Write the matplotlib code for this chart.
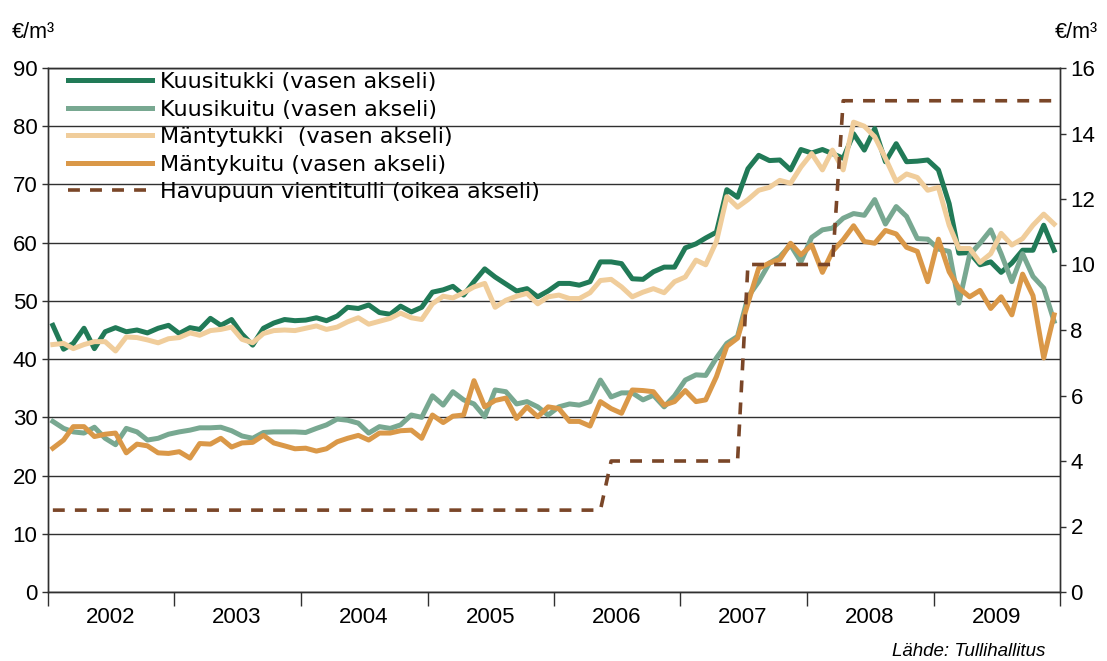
import matplotlib.pyplot as plt
import matplotlib.dates as mdates
from matplotlib.ticker import NullFormatter
import pandas as pd

plt.rcParams['font.family'] = ['Liberation Sans', 'DejaVu Sans']

# monthly observations, Jan 2002 - Dec 2009 (plotted mid-month)
months = pd.date_range('2002-01-01', '2009-12-01', freq='MS') + pd.Timedelta(days=14)

kuusitukki = [
    45.8, 41.7, 42.7, 45.3, 41.8, 44.7, 45.4, 44.7, 45.0, 44.5, 45.3, 45.8,
    44.4, 45.4, 45.1, 47.0, 45.8, 46.8, 44.3, 42.4, 45.3, 46.2, 46.8, 46.6,
    46.7, 47.1, 46.6, 47.4, 48.9, 48.7, 49.3, 48.0, 47.7, 49.1, 48.1, 48.9,
    51.5, 51.9, 52.5, 51.0, 53.3, 55.5, 54.1, 52.9, 51.7, 52.1, 50.7, 51.7,
    53.0, 53.0, 52.7, 53.3, 56.7, 56.7, 56.4, 53.8, 53.7, 55.0, 55.8, 55.8,
    59.1, 59.8, 60.8, 61.8, 69.1, 67.8, 72.7, 75.0, 74.1, 74.2, 72.5, 76.0,
    75.4, 76.0, 75.3, 74.5, 78.7, 75.9, 79.6, 73.9, 77.0, 73.9, 74.0, 74.2,
    72.5, 66.7, 58.2, 58.3, 56.2, 56.7, 54.9, 56.5, 58.7, 58.7, 63.0, 58.7,
]
kuusikuitu = [
    29.3, 28.1, 27.5, 27.3, 28.3, 26.4, 25.3, 28.1, 27.5, 26.1, 26.4, 27.1,
    27.5, 27.8, 28.2, 28.2, 28.3, 27.7, 26.8, 26.4, 27.4, 27.5, 27.5, 27.5,
    27.4, 28.1, 28.7, 29.7, 29.5, 29.0, 27.3, 28.4, 28.1, 28.7, 30.4, 30.0,
    33.7, 32.1, 34.4, 33.0, 32.3, 30.1, 34.7, 34.4, 32.3, 32.7, 31.8, 30.4,
    31.8, 32.3, 32.1, 32.7, 36.4, 33.5, 34.2, 34.2, 33.0, 33.8, 31.8, 33.7,
    36.4, 37.3, 37.2, 40.2, 42.7, 43.9, 50.7, 53.3, 56.5, 57.6, 59.6, 56.7,
    60.9, 62.2, 62.5, 64.2, 65.0, 64.7, 67.4, 63.2, 66.2, 64.5, 60.7, 60.6,
    58.9, 58.5, 49.6, 57.9, 59.9, 62.2, 58.1, 53.3, 58.1, 54.2, 52.2, 46.5,
]
mantytukki = [
    42.5, 42.7, 41.8, 42.5, 43.0, 43.0, 41.4, 43.8, 43.7, 43.3, 42.8, 43.5,
    43.7, 44.5, 44.1, 44.9, 45.1, 45.5, 43.4, 42.8, 44.4, 44.9, 45.0, 44.9,
    45.3, 45.7, 45.1, 45.5, 46.4, 47.1, 46.0, 46.5, 47.0, 47.9, 47.1, 46.8,
    49.5, 50.8, 50.5, 51.4, 52.4, 53.0, 48.9, 50.1, 50.8, 51.3, 49.5, 50.7,
    51.0, 50.4, 50.4, 51.4, 53.5, 53.7, 52.4, 50.7, 51.5, 52.1, 51.4, 53.3,
    54.1, 57.0, 56.2, 60.2, 67.9, 66.1, 67.4, 69.0, 69.5, 70.7, 70.2, 73.0,
    75.3, 72.5, 75.9, 72.5, 80.7, 80.0, 78.2, 74.5, 70.5, 71.8, 71.2, 69.0,
    69.5, 63.0, 59.0, 59.0, 56.6, 58.1, 61.6, 59.6, 60.7, 63.0, 64.9, 63.2,
]
mantykuitu = [
    24.7, 26.1, 28.4, 28.4, 26.7, 27.1, 27.3, 23.9, 25.4, 25.1, 23.9, 23.8,
    24.1, 23.0, 25.5, 25.4, 26.4, 24.9, 25.6, 25.7, 26.9, 25.6, 25.1, 24.6,
    24.7, 24.2, 24.6, 25.8, 26.4, 26.9, 26.1, 27.3, 27.3, 27.7, 27.8, 26.4,
    30.4, 29.1, 30.2, 30.4, 36.3, 31.8, 32.9, 33.3, 29.8, 31.8, 30.1, 31.8,
    31.5, 29.3, 29.3, 28.5, 32.7, 31.5, 30.7, 34.7, 34.6, 34.4, 32.1, 32.7,
    34.6, 32.7, 33.0, 37.0, 42.2, 43.6, 49.6, 55.6, 56.5, 57.1, 59.9, 57.9,
    59.6, 54.9, 58.5, 60.5, 62.9, 60.2, 59.9, 62.1, 61.5, 59.2, 58.5, 53.3,
    60.6, 55.0, 52.2, 50.7, 51.8, 48.7, 50.7, 47.6, 54.6, 50.9, 40.2, 47.6,
]
# export duty, right axis
vientitulli = [
    2.5, 2.5, 2.5, 2.5, 2.5, 2.5, 2.5, 2.5, 2.5, 2.5, 2.5, 2.5,
    2.5, 2.5, 2.5, 2.5, 2.5, 2.5, 2.5, 2.5, 2.5, 2.5, 2.5, 2.5,
    2.5, 2.5, 2.5, 2.5, 2.5, 2.5, 2.5, 2.5, 2.5, 2.5, 2.5, 2.5,
    2.5, 2.5, 2.5, 2.5, 2.5, 2.5, 2.5, 2.5, 2.5, 2.5, 2.5, 2.5,
    2.5, 2.5, 2.5, 2.5, 2.5, 4.0, 4.0, 4.0, 4.0, 4.0, 4.0, 4.0,
    4.0, 4.0, 4.0, 4.0, 4.0, 4.0, 10.0, 10.0, 10.0, 10.0, 10.0, 10.0,
    10.0, 10.0, 10.0, 15.0, 15.0, 15.0, 15.0, 15.0, 15.0, 15.0, 15.0, 15.0,
    15.0, 15.0, 15.0, 15.0, 15.0, 15.0, 15.0, 15.0, 15.0, 15.0, 15.0, 15.0,
]

W, H = 1107, 661
fig = plt.figure(figsize=(W/100, H/100), dpi=100)
ax = fig.add_axes([48/W, 1-592/H, (1060-48)/W, (592-68)/H])
ax2 = ax.twinx()

lw = 3.6
ax.plot(months, kuusitukki, color='#217a57', lw=lw, label='Kuusitukki (vasen akseli)')
ax.plot(months, kuusikuitu, color='#78a891', lw=lw, label='Kuusikuitu (vasen akseli)')
ax.plot(months, mantytukki, color='#f0cd9b', lw=lw, label='Mäntytukki  (vasen akseli)')
ax.plot(months, mantykuitu, color='#da9848', lw=lw, label='Mäntykuitu (vasen akseli)')
ax2.plot(months, vientitulli, color='#7a4628', lw=2.6, dashes=(3.3, 2.8),
         label='Havupuun vientitulli (oikea akseli)')

ax.set_ylim(0, 90)
ax.set_yticks(range(0, 91, 10))
ax2.set_ylim(0, 16)
ax2.set_yticks(range(0, 17, 2))
ax.set_xlim(pd.Timestamp('2002-01-01'), pd.Timestamp('2010-01-01'))
ax.xaxis.set_major_locator(mdates.YearLocator())
ax.xaxis.set_major_formatter(NullFormatter())
ax.xaxis.set_minor_locator(mdates.MonthLocator(bymonth=7))
ax.xaxis.set_minor_formatter(mdates.DateFormatter('%Y'))

ax.yaxis.grid(True, color='#303030', lw=1)
ax.set_axisbelow(True)
for a in (ax, ax2):
    for s in a.spines.values():
        s.set_color('#303030')
        s.set_linewidth(1)

ax.tick_params(axis='x', which='major', length=10, width=1, color='#303030')
ax.tick_params(axis='x', which='minor', length=0, pad=11, labelsize=16)
ax.tick_params(axis='y', length=4.5, width=1, pad=3, labelsize=16, color='#303030')
ax2.tick_params(axis='y', length=4.5, width=1, pad=3, labelsize=16, color='#303030')

h1, l1 = ax.get_legend_handles_labels()
h2, l2 = ax2.get_legend_handles_labels()
ax2.legend(h1 + h2, l1 + l2, loc='upper left', bbox_to_anchor=(68/W, 1-72/H),
           bbox_transform=fig.transFigure, frameon=False,
           prop={'family': 'DejaVu Sans', 'size': 16},
           handlelength=3.8, handletextpad=0.33, labelspacing=0.34,
           borderpad=0, borderaxespad=0)

fig.text(12/W, 1-32/H, '€/m³', ha='left', va='center', fontsize=15.5)
fig.text(1055/W, 1-32/H, '€/m³', ha='left', va='center', fontsize=15.5)
fig.text(1045/W, 1-652/H, 'Lähde: Tullihallitus', ha='right', va='center',
         style='italic', fontsize=13.5)

fig.savefig('out.png', dpi=100)
